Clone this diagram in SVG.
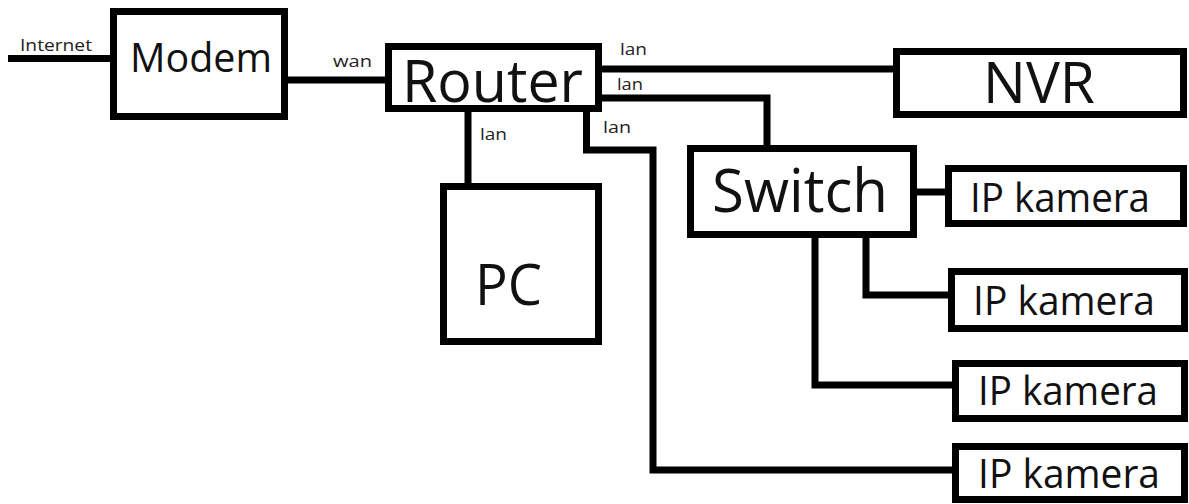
<svg xmlns="http://www.w3.org/2000/svg" width="1189" height="504" viewBox="0 0 1189 504">
<style>
.box{fill:#fff;stroke:#000;stroke-width:7}
.wire{fill:none;stroke:#000;stroke-width:7;stroke-linejoin:miter;stroke-linecap:butt}
.t{font-family:"Open Sans","Noto Sans",sans-serif;fill:#111}
.s{font-family:"Open Sans","Noto Sans",sans-serif;fill:#222;font-size:17px}
</style>
<rect width="1189" height="504" fill="#fff"/>
<g id="connectors">
<path class="wire" d="M8,58.5 H110"/>
<path class="wire" d="M288,80 H385"/>
<path class="wire" d="M602,69 H893"/>
<path class="wire" d="M602,98 H767 V145"/>
<path class="wire" d="M468,112 V183"/>
<path class="wire" d="M586.5,112 V150 H653 V470 H952"/>
<path class="wire" d="M917,192 H945"/>
<path class="wire" d="M866,238 V295 H948"/>
<path class="wire" d="M815,238 V385 H952"/>
<text class="s" x="20" y="51" textLength="72" lengthAdjust="spacingAndGlyphs">Internet</text>
<text class="s" x="333" y="67" textLength="39" lengthAdjust="spacingAndGlyphs">wan</text>
<text class="s" x="620" y="55" textLength="27" lengthAdjust="spacingAndGlyphs">lan</text>
<text class="s" x="617" y="90" textLength="26" lengthAdjust="spacingAndGlyphs">lan</text>
<text class="s" x="603" y="133" textLength="28" lengthAdjust="spacingAndGlyphs">lan</text>
<text class="s" x="480" y="140" textLength="27" lengthAdjust="spacingAndGlyphs">lan</text>
</g>
<g id="modem">
<rect class="box" x="113.5" y="11.5" width="171" height="105"/>
<text class="t" x="130" y="72" font-size="41" textLength="142" lengthAdjust="spacingAndGlyphs">Modem</text>
</g>
<g id="router">
<rect class="box" x="388.5" y="46.5" width="210" height="62"/>
<text class="t" x="402" y="102" font-size="58" textLength="181" lengthAdjust="spacingAndGlyphs">Router</text>
</g>
<g id="nvr">
<rect class="box" x="896.5" y="51.5" width="287" height="63"/>
<text class="t" x="983" y="103" font-size="57" textLength="112" lengthAdjust="spacingAndGlyphs">NVR</text>
</g>
<g id="pc">
<rect class="box" x="443.5" y="186.5" width="155" height="155"/>
<text class="t" x="475" y="305" font-size="56" textLength="67" lengthAdjust="spacingAndGlyphs">PC</text>
</g>
<g id="switch">
<rect class="box" x="690.5" y="148.5" width="223" height="86"/>
<text class="t" x="712" y="212" font-size="60" textLength="176" lengthAdjust="spacingAndGlyphs">Switch</text>
</g>
<g id="ipcam1">
<rect class="box" x="948.5" y="168.5" width="235" height="55"/>
<text class="t" x="970" y="212" font-size="41" textLength="180" lengthAdjust="spacingAndGlyphs">IP kamera</text>
</g>
<g id="ipcam2">
<rect class="box" x="951.5" y="271.5" width="233" height="57"/>
<text class="t" x="973" y="315" font-size="41" textLength="182" lengthAdjust="spacingAndGlyphs">IP kamera</text>
</g>
<g id="ipcam3">
<rect class="box" x="955.5" y="363.5" width="229" height="55"/>
<text class="t" x="978" y="405" font-size="41" textLength="180" lengthAdjust="spacingAndGlyphs">IP kamera</text>
</g>
<g id="ipcam4">
<rect class="box" x="955.5" y="446.5" width="229" height="53"/>
<text class="t" x="978" y="488" font-size="41" textLength="182" lengthAdjust="spacingAndGlyphs">IP kamera</text>
</g>
</svg>
